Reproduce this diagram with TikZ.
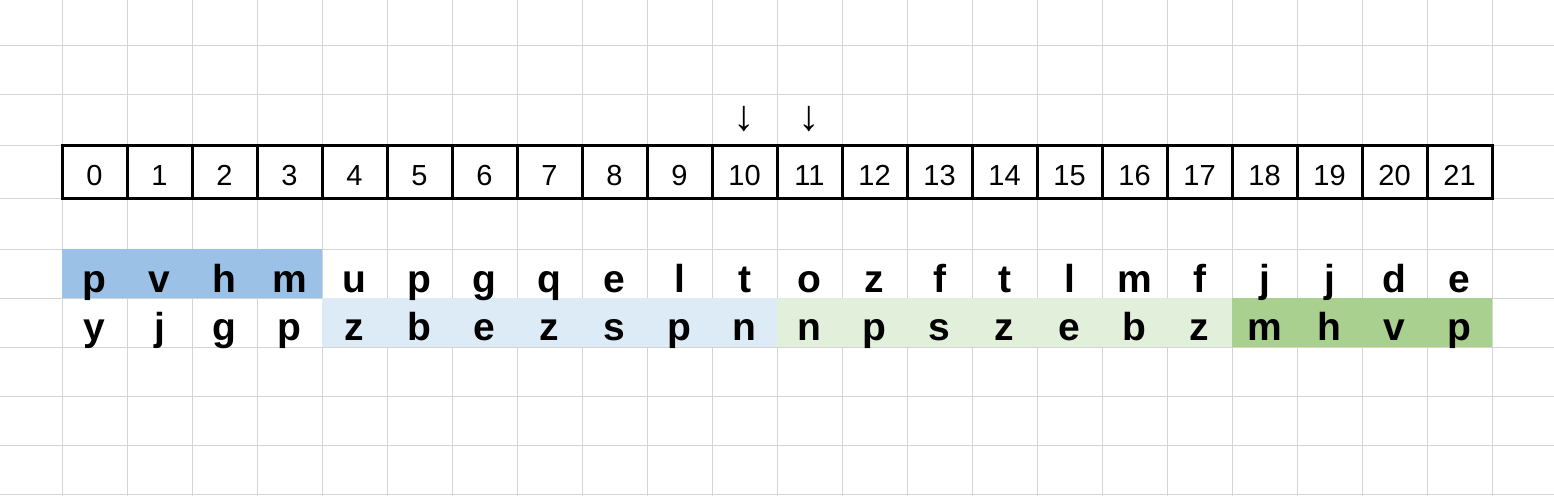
\documentclass[tikz,border=0pt]{standalone}
\usepackage{fontspec}
\setmainfont{Liberation Sans}
\usetikzlibrary{positioning}

\definecolor{darkblue}{HTML}{9BC2E6}
\definecolor{lightblue}{HTML}{DDEBF7}
\definecolor{lightgreen}{HTML}{E2EFDA}
\definecolor{darkgreen}{HTML}{A9D08E}
\definecolor{gridgray}{HTML}{D4D4D4}

\tikzset{
  indexcell/.style={draw, line width=3pt, minimum width=65pt, minimum height=53pt,
    inner sep=0pt, text height=27pt, text depth=0pt,
    font=\fontsize{29}{30}\selectfont},
  letter/.style={inner sep=0pt, anchor=base, font=\bfseries\fontsize{39}{40}\selectfont},
  pointer/.style={inner sep=0pt, font=\fontsize{43}{43}\selectfont}
}

\begin{document}
\begin{tikzpicture}[x=1pt,y=-1pt]
  \useasboundingbox (0,0) rectangle (1554,496);

  % sheet grid
  \begin{scope}[gridgray, line width=1pt]
    \foreach \x in {0,...,22}
      \draw (62+65*\x,0) -- (62+65*\x,496);
    \foreach \y in {45,94,145,198,249,298,347,396,445,494}
      \draw (0,\y) -- (1554,\y);
  \end{scope}

  % shaded cells
  \fill[darkblue]   (62,249)  rectangle (322,298);
  \fill[lightblue]  (322,298) rectangle (777,347);
  \fill[lightgreen] (777,298) rectangle (1232,347);
  \fill[darkgreen]  (1232,298) rectangle (1492,347);

  % index row
  \foreach \i in {0,...,21}
    \node[indexcell] (i\i) at (94.5+65*\i,171.5) {\i};

  % pointers
  \node[pointer] (p10) at (744.5,119) {↓};
  \node[pointer] (p11) at (809.5,119) {↓};

  % first string
  \foreach \c [count=\i from 0] in {p,v,h,m,u,p,g,q,e,l,t,o,z,f,t,l,m,f,j,j,d,e}
    \node[letter] (a\i) at (94.5+65*\i,292) {\c};

  % second string
  \foreach \c [count=\i from 0] in {y,j,g,p,z,b,e,z,s,p,n,n,p,s,z,e,b,z,m,h,v,p}
    \node[letter] (b\i) at (94.5+65*\i,340) {\c};

\end{tikzpicture}
\end{document}
